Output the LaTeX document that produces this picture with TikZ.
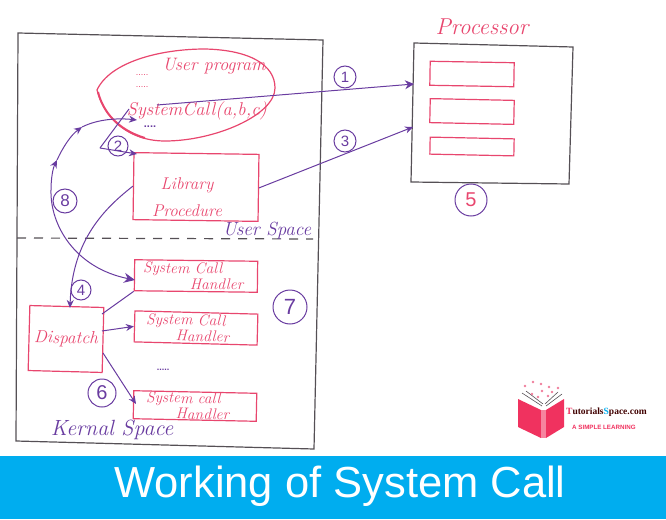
\documentclass[tikz,border=0pt]{standalone}
\usepackage{fontspec}
\setmainfont{Liberation Sans}
\newfontfamily\handfont{Latin Modern Roman}
\newfontfamily\logofont{Liberation Serif}
\usetikzlibrary{arrows.meta, positioning}
\definecolor{penpink}{RGB}{232,70,110}
\definecolor{penviolet}{RGB}{105,60,160}
\definecolor{pengray}{RGB}{85,80,85}
\definecolor{bannerblue}{RGB}{0,173,239}
\definecolor{bookred}{RGB}{240,50,95}
\tikzset{
  frame/.style    = {draw=pengray, line width=1.2pt},
  pinkbox/.style  = {draw=penpink, line width=1.2pt, align=center, inner sep=0pt},
  handler/.style  = {pinkbox, minimum width=123pt, minimum height=31pt, align=left,
                     text=penpink, font=\handfont\itshape\fontsize{15.500}{16}\selectfont},
  regbox/.style   = {pinkbox, minimum width=84pt},
  num/.style      = {circle, draw=penviolet, line width=1pt, inner sep=0pt,
                     text=penviolet, font=\fontsize{15}{15}\selectfont},
  pinktext/.style = {text=penpink, inner sep=0pt, font=\handfont\itshape\fontsize{18}{18}\selectfont},
  violettext/.style = {text=penviolet, inner sep=0pt, font=\handfont\itshape\fontsize{22}{22}\selectfont},
  dotline/.style  = {text=penpink, inner sep=0pt, font=\fontsize{9}{9}\selectfont},
  arrow/.style    = {-{Stealth[length=8pt,width=7pt]}, draw=penviolet, line width=1pt},
  wire/.style     = {draw=penviolet, line width=1pt},
}
\begin{document}
\begin{tikzpicture}[x=1pt, y=-1pt]
\useasboundingbox (0,0) rectangle (666,519);

% ---------------- outer frames ----------------
\draw[frame] (18,33) -- (323,40) -- (314,449) -- (16,441) -- cycle;
\draw[frame] (414,43) -- (573,47) -- (569,184) -- (411,182) -- cycle;
\draw[draw=pengray, line width=1.2pt, dash pattern=on 9pt off 8pt] (17,238) -- (313,239);

% ---------------- user program ----------------
\draw[draw=penpink, line width=1.2pt] (97,90) .. controls (110,62) and (160,49) .. (205,49)
  .. controls (250,50) and (275,65) .. (275,88)
  .. controls (275,115) and (215,141) .. (165,141)
  .. controls (130,141) and (105,120) .. (97,90) -- cycle;
\draw[draw=penpink, line width=2pt] (98,92) .. controls (103,112) and (118,130) .. (145,138);

\node[pinktext] (userprog) at (214,66) {User program};
\node[dotline] (dotsa) at (142,75) {.....};
\node[dotline] (dotsb) at (142,87) {.....};
\node[pinktext, font=\handfont\itshape\fontsize{18.500}{18.500}\selectfont] (syscall) at (197,111) {SystemCall(a,b,c)};
\node[text=penviolet, inner sep=0pt, font=\bfseries\fontsize{11}{11}\selectfont] (dotsc) at (150,127) {....};

\node[pinkbox, minimum width=125pt, minimum height=67pt, rotate=-0.8] (library) at (196,187) {};
\node[pinktext, align=center, font=\handfont\itshape\fontsize{17}{27}\selectfont] (libtext) at (187,197) {Library\\Procedure};
\node[violettext, font=\handfont\itshape\fontsize{19}{19}\selectfont] (userspace) at (267,231) {User Space};

% ---------------- kernel space ----------------
\node[pinkbox, minimum width=74pt, minimum height=65pt, rotate=-1.5, text=penpink,
      font=\handfont\itshape\fontsize{17.500}{17.500}\selectfont] (dispatch) at (66,339) {Dispatch};

\node[handler, rotate=-0.7, text width=106pt] (handlera) at (196,276) {System Call\\\hspace*{47pt}Handler};
\node[handler, rotate=-1.5, text width=100pt] (handlerb) at (196,328) {System Call\\\hspace*{30pt}Handler};
\node[handler, rotate=-1.2, text width=98pt, minimum height=28pt] (handlerc) at (195,406) {System call\\\hspace*{30pt}Handler};
\node[text=penviolet, inner sep=0pt, font=\bfseries\fontsize{9}{9}\selectfont] (dotsd) at (163,370) {.....};
\node[violettext] (kernalspace) at (112,430) {Kernal Space};

% ---------------- processor ----------------
\node[pinktext, font=\handfont\itshape\fontsize{23}{23}\selectfont] (processor) at (482,27) {Processor};
\node[regbox, minimum height=24pt, rotate=-1] (rega) at (472,74) {};
\node[regbox, minimum height=24pt, rotate=-1.2] (regb) at (472,111.500) {};
\node[regbox, minimum height=17pt, rotate=-1.2] (regc) at (472,146.500) {};

% ---------------- numbers ----------------
\node[num, minimum size=22pt] (n1) at (345,77) {1};
\node[num, minimum size=20pt] (n2) at (118,146) {2};
\node[num, minimum size=22pt] (n3) at (345,141) {3};
\node[num, minimum size=20pt] (n4) at (81,290) {4};
\node[num, minimum size=32pt, text=penpink, font=\fontsize{20}{20}\selectfont] (n5) at (471,200) {5};
\node[num, minimum size=28pt, font=\fontsize{20}{20}\selectfont] (n6) at (102,393) {6};
\node[num, minimum size=34pt, font=\fontsize{22}{22}\selectfont] (n7) at (290,307) {7};
\node[num, minimum size=24pt, font=\fontsize{17}{17}\selectfont] (n8) at (65,201) {8};

% ---------------- connectors ----------------
\coordinate (syscallout) at (157,105);
\coordinate (syscallin) at (129,109);
\coordinate (syscallback) at (137,120);
\coordinate (corner) at (100,148);
\coordinate (libin) at (137,154);
\coordinate (procina) at (414,84);
\coordinate (procinb) at (413,127);
\coordinate (dispa) at (102,314);
\coordinate (dispb) at (102,331);
\coordinate (dispc) at (103,353);
\coordinate (dispd) at (136,404);
\coordinate (handin) at (135,280);
\coordinate (loopbottom) at (51,190);
\coordinate (loopa) at (57,160);
\coordinate (loopb) at (82,127);

\draw[arrow, -{Stealth[length=9pt,width=9pt]}] (syscallout) -- (procina);
\draw[arrow] (library.east) -- (procinb);
\draw[wire] (syscallin) -- (corner);
\draw[arrow] (corner) -- (libin);

% loop from the handler up to the call, marked along the way
\draw[arrow, -{Stealth[length=11pt,width=10pt]}] (loopbottom) .. controls (50,225) and (75,268) .. (handin);
\draw[arrow] (loopbottom) .. controls (51,178) and (53,168) .. (loopa);
\draw[arrow] (loopa) .. controls (63,147) and (71,135) .. (loopb);
\draw[arrow] (loopb) .. controls (98,119) and (118,118) .. (syscallback);

\draw[arrow] (library.west) .. controls (105,208) and (72,240) .. (70,308);
\draw[wire] (dispa) -- (handlera.south west);
\draw[arrow] (dispb) -- (handlerb.west);
\draw[arrow] (dispc) -- (dispd);

% ---------------- banner ----------------
\fill[bannerblue] (0,456) rectangle (666,519);
\node[text=white, inner sep=0pt, font=\fontsize{43.500}{43.500}\selectfont] (title) at (340,486) {Working of System Call};

% ---------------- logo ----------------
\fill[bookred] (518,399) -- (541,410) -- (541,438) -- (518,427) -- cycle;
\fill[bookred] (546,410) -- (564,399) -- (564,427) -- (546,438) -- cycle;
\fill[bookred!60] (541,410) rectangle (546,438);
\draw[pengray, line width=0.6pt] (522,393) -- (542,406) (526,391) -- (543,404) (562,394) -- (546,406) (558,392) -- (545,404);
\foreach \sx/\sy in {525/386, 533/382, 541/384, 549/387, 558/388, 532/394, 538/397, 548/396, 552/392, 542/391}
  \fill[penpink!70] (\sx,\sy) circle (1.3pt);
\node[inner sep=0pt, anchor=west, font=\logofont\bfseries\fontsize{9.500}{9.500}\selectfont] (brand) at (566,412)
  {\textcolor{bookred}{T}\textcolor{black!75!red}{utorials}\textcolor{bannerblue}{S}\textcolor{black!75!red}{pace.com}};
\node[inner sep=0pt, anchor=west, text=bookred, font=\bfseries\fontsize{6.200}{6.200}\selectfont] (slogan) at (572,427) {A SIMPLE LEARNING};

\end{tikzpicture}
\end{document}
